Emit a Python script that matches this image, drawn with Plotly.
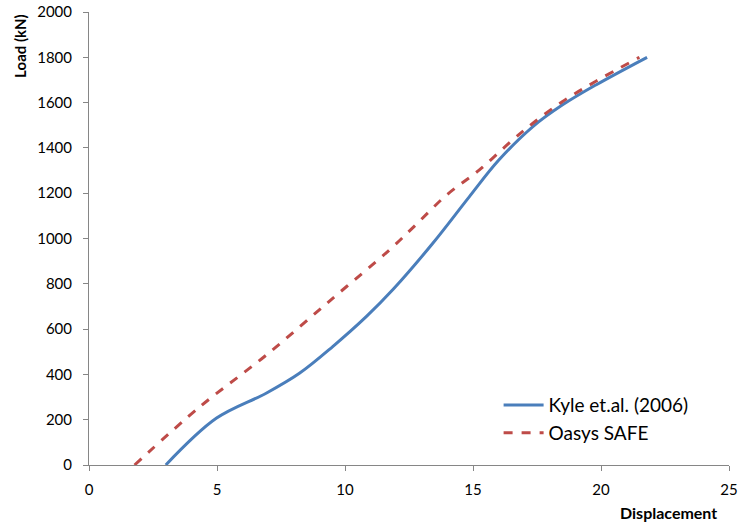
import plotly.graph_objects as go

# Load-displacement curves
kyle_disp = [3.0, 4.97, 6.92, 8.22, 9.52, 10.83, 11.9, 13.43, 14.86, 16.0, 17.34, 18.5, 19.8, 21.8]
kyle_load = [0, 206, 317, 405, 523, 655, 778, 979, 1185, 1345, 1494, 1590, 1678, 1800]

safe_disp = [1.78, 4.31, 6.92, 9.52, 11.74, 12.78, 13.95, 15.25, 16.55, 17.34, 18.5, 19.8, 21.5]
safe_load = [0, 255, 485, 736, 950, 1062, 1190, 1303, 1435, 1509, 1605, 1694, 1800]

x_ticks = [0, 5, 10, 15, 20, 25]
y_ticks = [0, 200, 400, 600, 800, 1000, 1200, 1400, 1600, 1800, 2000]

FONT = "Lato"
AXIS_GREY = "#868686"

fig = go.Figure()
fig.add_trace(go.Scatter(
    x=kyle_disp, y=kyle_load, mode="lines", name="Kyle et.al. (2006)",
    line=dict(color="#4A7EBB", width=3, shape="spline", smoothing=1.0),
))
fig.add_trace(go.Scatter(
    x=safe_disp, y=safe_load, mode="lines", name="Oasys SAFE",
    line=dict(color="#BE4B48", width=3, dash="dash", shape="spline", smoothing=1.0),
))

fig.update_layout(
    width=739, height=522,
    margin=dict(l=89, r=10, t=12, b=57, autoexpand=False),
    paper_bgcolor="white", plot_bgcolor="white",
    font=dict(family=FONT, size=15, color="black"),
    showlegend=True,
    legend=dict(x=0.64, y=0.174, xanchor="left", yanchor="top",
                bgcolor="rgba(0,0,0,0)", font=dict(family=FONT, size=19),
                tracegroupgap=0, itemwidth=40),
    xaxis=dict(range=[0, 25], tickvals=x_ticks, showgrid=False, zeroline=False,
               showline=True, linecolor=AXIS_GREY, linewidth=1, automargin=False,
               ticks="outside", ticklen=5, tickcolor=AXIS_GREY, ticklabelstandoff=6,
               tickfont=dict(family=FONT, size=15)),
    yaxis=dict(range=[0, 2000], tickvals=y_ticks, showgrid=False, zeroline=False,
               showline=True, linecolor=AXIS_GREY, linewidth=1, automargin=False,
               ticks="outside", ticklen=5, tickcolor=AXIS_GREY, ticklabelstandoff=8,
               tickfont=dict(family=FONT, size=15)),
    annotations=[
        dict(text="<b>Displacement</b>", xref="paper", yref="paper",
             x=0.985, y=-0.104, xanchor="right", yanchor="middle",
             showarrow=False, font=dict(family=FONT, size=16)),
        dict(text="<b>Load (kN)</b>", xref="paper", yref="paper",
             x=-0.108, y=1.0, xanchor="center", yanchor="top", textangle=-90,
             showarrow=False, font=dict(family=FONT, size=15)),
    ],
)

fig.write_html("out.html")
